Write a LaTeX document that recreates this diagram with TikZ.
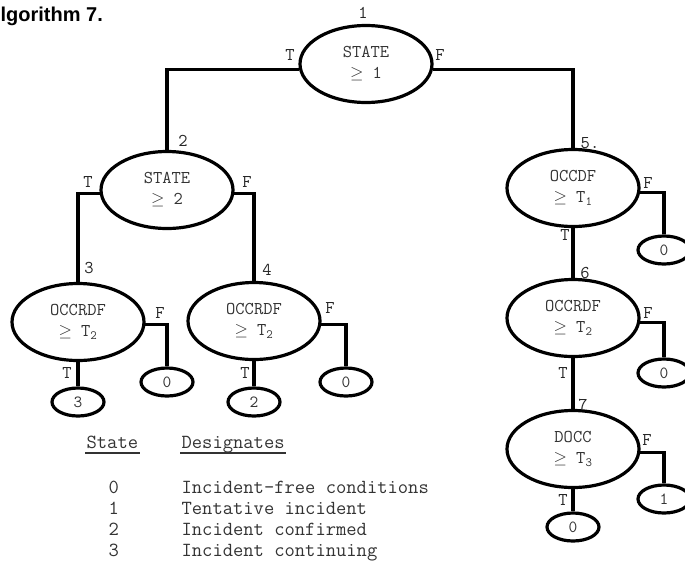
\documentclass[tikz,border=0pt]{standalone}
\usepackage{fontspec}
\newfontfamily\headfont{Liberation Sans}
\usetikzlibrary{shapes.geometric}
\begin{document}
\begin{tikzpicture}[x=1pt,y=-1pt,line join=miter,line width=3.2pt,
	cond/.style={ellipse,draw,minimum width=132pt,minimum height=77pt,inner sep=0pt,align=center,text=black!80,font=\fontsize{18}{21}\selectfont\ttfamily},
	leaf/.style={ellipse,draw,minimum width=52pt,minimum height=28pt,inner sep=0pt,text=black!80,font=\fontsize{17}{17}\selectfont\ttfamily},
	lbl/.style={inner sep=0pt,text=black!85,font=\fontsize{18}{18}\selectfont\ttfamily},
	legd/.style={inner sep=0pt,anchor=base west,text=black!80,font=\fontsize{20}{20}\selectfont\ttfamily}]
	\useasboundingbox (0,0) rectangle (685,563);
	\def\ge{$\geq$}
	\node[anchor=base west,inner sep=0pt,font=\headfont\bfseries\fontsize{20}{20}\selectfont] (title) at (-1,21) {lgorithm 7.};
	\node[cond] (n1) at (366,64) {STATE\\\ge\ 1};
	\node[cond] (n2) at (167,190) {STATE\\\ge\ 2};
	\node[cond] (n3) at (78,322) {OCCRDF\\\ge\ T\textsubscript{2}};
	\node[cond] (n4) at (254,321) {OCCRDF\\\ge\ T\textsubscript{2}};
	\node[cond] (n5) at (573,188) {OCCDF\\\ge\ T\textsubscript{1}};
	\node[cond] (n6) at (573,318) {OCCRDF\\\ge\ T\textsubscript{2}};
	\node[cond] (n7) at (573,449) {DOCC\\\ge\ T\textsubscript{3}};
	\node[leaf] (a3) at (78,402) {3};
	\node[leaf] (a0) at (167,382) {0};
	\node[leaf] (b2) at (254,402) {2};
	\node[leaf] (b0) at (346,382) {0};
	\node[leaf] (c0) at (664,250) {0};
	\node[leaf] (d0) at (664,373) {0};
	\node[leaf] (e1) at (664,499) {1};
	\node[leaf] (e0) at (573,527) {0};
	\draw (n1.185) -| (n2.north);
	\draw (n1.-5) -| (n5.north);
	\draw (n2.183) -| (n3.north);
	\draw (n2.-3) -| (n4.north);
	\draw (n3.-2) -| (a0.north);
	\draw (n3.south) -- (a3.north);
	\draw (n4.-3) -| (b0.north);
	\draw (n4.south) -- (b2.north);
	\draw (n5.-4) -| (c0.north);
	\draw (n5.south) -- (n6.north);
	\draw (n6.-4) -| (d0.north);
	\draw (n6.south) -- (n7.north);
	\draw (n7.-3) -| (e1.north);
	\draw (n7.south) -- (e0.north);
	\node[lbl] (k1) at (363,13) {1};
	\node[lbl] (t1) at (290,55) {T};
	\node[lbl] (f1) at (440,55) {F};
	\node[lbl] (k2) at (183,141) {2};
	\node[lbl] (t2) at (88,182) {T};
	\node[lbl] (f2) at (247,182) {F};
	\node[lbl] (k3) at (89,268) {3};
	\node[lbl] (k4) at (267,270) {4};
	\node[lbl] (f3) at (160,313) {F};
	\node[lbl] (t3) at (67,373) {T};
	\node[lbl] (f4) at (330,308) {F};
	\node[lbl] (t4) at (245,373) {T};
	\node[lbl] (k5) at (590,143) {5.};
	\node[lbl] (f5) at (648,183) {F};
	\node[lbl] (t5) at (565,235) {T};
	\node[lbl] (k6) at (585,273) {6};
	\node[lbl] (f6) at (648,313) {F};
	\node[lbl] (t6) at (563,373) {T};
	\node[lbl] (k7) at (583,405) {7};
	\node[lbl] (f7) at (647,440) {F};
	\node[lbl] (t7) at (563,500) {T};
	\node[legd] (hstate) at (85,448) {State};
	\node[legd] (hdes) at (180,448) {Designates};
	\draw[line width=1.2pt,black!80] ([yshift=-5pt]hstate.base west) -- ([yshift=-5pt]hstate.base east);
	\draw[line width=1.2pt,black!80] ([yshift=-5pt]hdes.base west) -- ([yshift=-5pt]hdes.base east);
	\foreach \s/\d [count=\i from 0] in {0/Incident-free conditions,1/Tentative incident,2/Incident confirmed,3/Incident continuing}
		\node[legd] (s\i) at (107,493+21.3*\i) {\s} node[legd] (d\i) at (180,493+21.3*\i) {\d};
\end{tikzpicture}
\end{document}
